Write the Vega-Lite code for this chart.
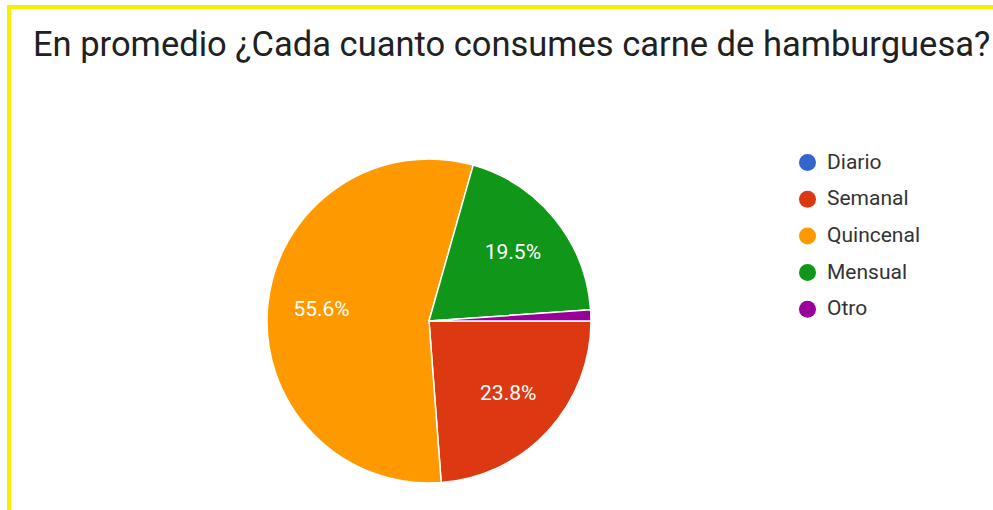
{
  "$schema": "https://vega.github.io/schema/vega-lite/v6.json",
  "padding": {"left": 7, "top": 5, "right": 0, "bottom": 0},
  "background": "white",
  "bounds": "flush",
  "spacing": 0,
  "title": {
    "text": "En promedio ¿Cada cuanto consumes carne de hamburguesa?",
    "anchor": "start",
    "frame": "group",
    "orient": "top",
    "offset": -85,
    "baseline": "alphabetic",
    "dx": 24,
    "font": "Roboto",
    "fontSize": 34.5,
    "fontWeight": "normal",
    "color": "#212121"
  },
  "datasets": {
    "resp": [
      {"cat": "Diario", "share": 0.0, "n": 1},
      {"cat": "Semanal", "share": 0.238, "n": 2},
      {"cat": "Quincenal", "share": 0.556, "n": 3},
      {"cat": "Mensual", "share": 0.195, "n": 4},
      {"cat": "Otro", "share": 0.011, "n": 5}
    ]
  },
  "hconcat": [
    {
      "width": 840,
      "height": 628,
      "data": {"name": "resp"},
      "view": {"stroke": "#f5f000", "strokeWidth": 4, "strokeDash": [840, 1468, 628]},
      "encoding": {
        "theta": {"field": "share", "type": "quantitative", "stack": true, "scale": {"range": [1.5708, 7.8540]}},
        "order": {"field": "n", "type": "quantitative", "sort": "ascending"}
      },
      "layer": [
        {
          "mark": {"type": "arc", "outerRadius": 162, "stroke": "white", "strokeWidth": 1.5},
          "encoding": {
            "color": {
              "field": "cat",
              "type": "nominal",
              "scale": {
                "domain": ["Diario", "Semanal", "Quincenal", "Mensual", "Otro"],
                "range": ["#3366cc", "#dc3912", "#ff9900", "#109618", "#990099"]
              },
              "legend": {
                "title": null,
                "orient": "none",
                "legendX": 788,
                "legendY": 145,
                "symbolType": "circle",
                "symbolSize": 290,
                "symbolStrokeWidth": 0,
                "labelFont": "Roboto",
                "labelFontSize": 21,
                "labelColor": "#333333",
                "labelOffset": 9,
                "rowPadding": 14.7
              }
            }
          }
        },
        {
          "mark": {"type": "text", "radius": 108, "font": "Roboto", "fontSize": 21, "fill": "white"},
          "encoding": {
            "detail": {"field": "cat", "type": "nominal"},
            "text": {
              "condition": {"test": "datum.share < 0.05", "value": ""},
              "field": "share",
              "type": "quantitative",
              "format": ".1%"
            }
          }
        }
      ]
    },
    {
      "width": 160,
      "height": 628,
      "data": {"values": []},
      "view": {"stroke": "#f5f000", "strokeWidth": 4, "strokeDash": [160, 5000]},
      "mark": "point",
      "encoding": {}
    }
  ],
  "config": {"font": "Roboto"}
}
